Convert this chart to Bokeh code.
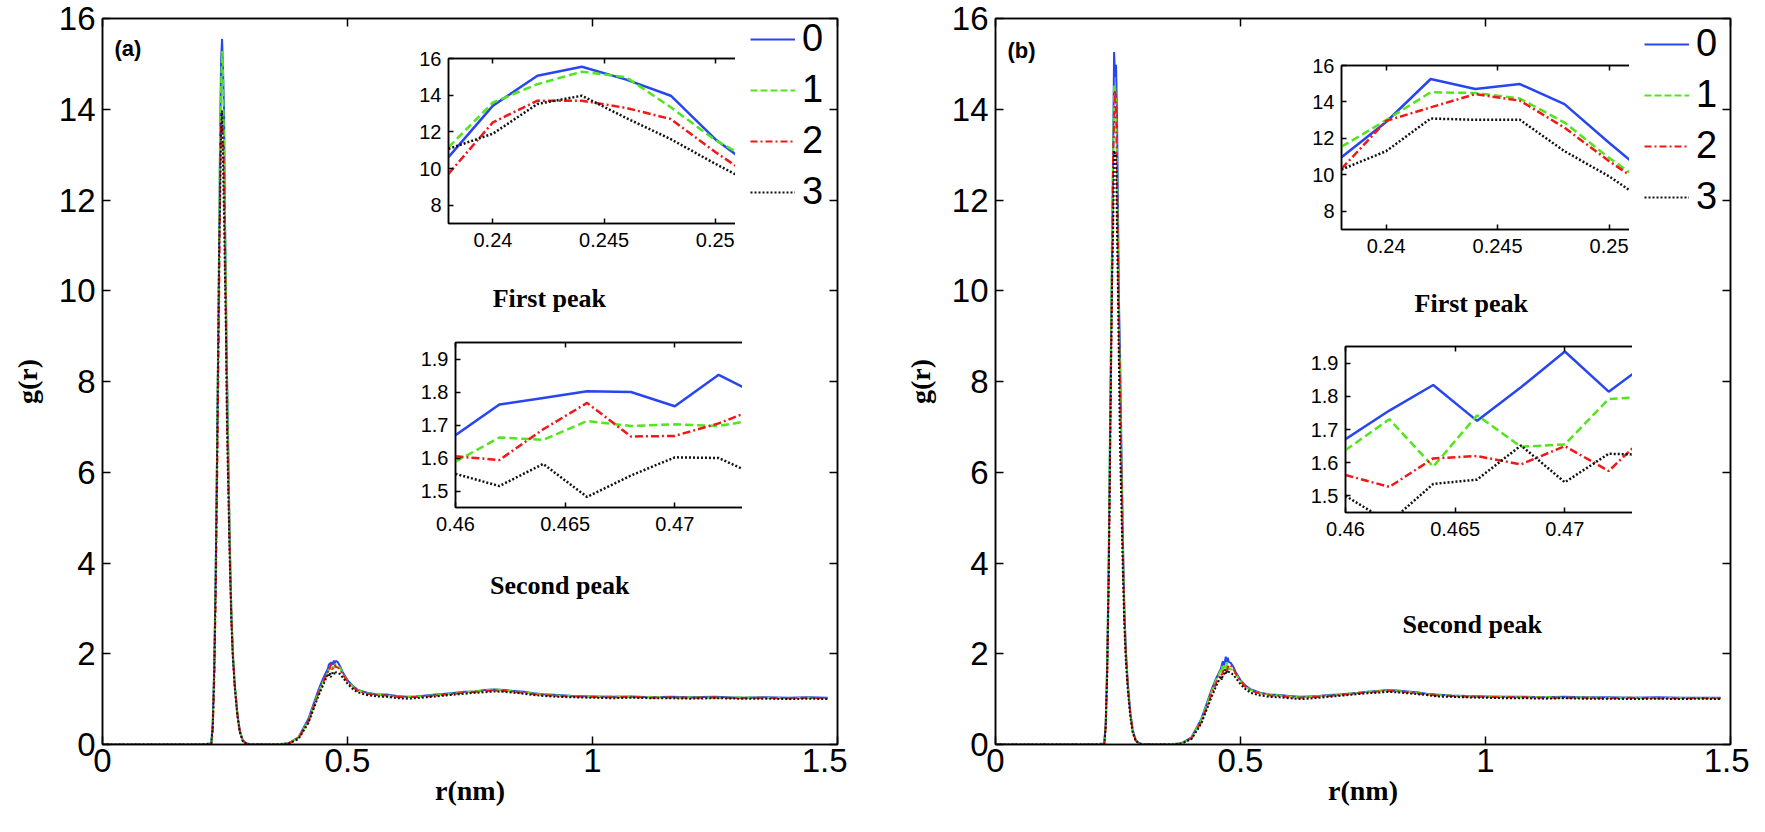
from bokeh.plotting import figure
from bokeh.models import (Range1d, LinearAxis, FixedTicker, Legend, LegendItem,
                          Label, Column)
from bokeh.embed import file_html
from bokeh.resources import INLINE

# ---------------- data ----------------
SERIES = ["0", "1", "2", "3"]
COLORS = ["#2846f0", "#4fe61a", "#f01818", "#111111"]
MAIN_DASH = ["solid", "7 3", "7 3 2 3", "2 2"]
INSET_DASH = ["solid", "8 4", "8 3 2 3", "2 2"]

MAIN_X = [0.0, 1.5]
MAIN_Y = [0.0, 16.0]
MAIN_XTICKS = [0.0, 0.5, 1.0, 1.5]
MAIN_XLABELS = ["0", "0.5", "1", "1.5"]
MAIN_YTICKS = [0, 2, 4, 6, 8, 10, 12, 14, 16]
MAIN_YLABELS = ["0", "2", "4", "6", "8", "10", "12", "14", "16"]

PEAK1_X = [0.238, 0.2528]
PEAK1_Y = [7.0, 16.0]
PEAK1_XTICKS = [0.24, 0.245, 0.25]
PEAK1_XLABELS = ["0.24", "0.245", "0.25"]
PEAK1_YTICKS = [8, 10, 12, 14, 16]
PEAK1_YLABELS = ["8", "10", "12", "14", "16"]

PEAK2_X = [0.46, 0.475]
PEAK2_Y = [1.45, 1.95]
PEAK2_XTICKS = [0.46, 0.465, 0.47]
PEAK2_XLABELS = ["0.46", "0.465", "0.47"]
PEAK2_YTICKS = [1.5, 1.6, 1.7, 1.8, 1.9]
PEAK2_YLABELS = ["1.5", "1.6", "1.7", "1.8", "1.9"]

# r (nm) grid segments
R_PRE = [0.0, 0.1, 0.2, 0.222, 0.225, 0.228, 0.231, 0.234, 0.236]
R_PK1 = [0.238, 0.240, 0.242, 0.244, 0.246, 0.248, 0.250, 0.252, 0.254]
R_MID = [0.257, 0.260, 0.263, 0.266, 0.270, 0.275, 0.280, 0.286, 0.293, 0.30,
         0.33, 0.36, 0.38, 0.40, 0.42, 0.44, 0.45]
R_PK2 = [0.460, 0.462, 0.464, 0.466, 0.468, 0.470, 0.472, 0.474, 0.476]
R_TAIL = [0.48, 0.485, 0.49, 0.50, 0.51, 0.52, 0.54, 0.56, 0.58, 0.60,
          0.62, 0.64, 0.66, 0.68, 0.70, 0.72, 0.74, 0.76, 0.78, 0.80,
          0.82, 0.84, 0.86, 0.88, 0.90, 0.93, 0.96, 1.00, 1.04, 1.08,
          1.12, 1.16, 1.20, 1.25, 1.30, 1.35, 1.40, 1.44, 1.48]

# ----- panel (a) g(r) values, series 0..3 -----
A_PRE = [
    [0, 0, 0, 0.02, 0.5, 1.7, 3.8, 6.6, 8.6],
    [0, 0, 0, 0.01, 0.4, 1.6, 3.7, 6.7, 8.9],
    [0, 0, 0, 0.01, 0.3, 1.4, 3.2, 5.8, 7.8],
    [0, 0, 0, 0.02, 0.4, 1.6, 3.6, 6.5, 8.8],
]
A_PK1 = [
    [10.62, 13.43, 15.06, 15.55, 14.85, 13.97, 11.6, 9.8, 8.2],
    [11.16, 13.6, 14.6, 15.28, 14.97, 13.34, 11.55, 10.2, 8.3],
    [9.71, 12.52, 13.7, 13.7, 13.3, 12.7, 10.9, 9.26, 7.4],
    [11.07, 11.9, 13.52, 13.97, 12.75, 11.6, 10.26, 8.99, 7.0],
]
A_MID = [
    [6.2, 4.3, 2.9, 2.0, 1.3, 0.7, 0.32, 0.1, 0.03, 0.01, 0.0, 0.0, 0.03, 0.16, 0.56, 1.18, 1.45],
    [6.3, 4.4, 3.0, 2.1, 1.35, 0.72, 0.3, 0.1, 0.02, 0.0, 0.0, 0.01, 0.03, 0.15, 0.52, 1.12, 1.38],
    [5.7, 4.1, 2.8, 2.0, 1.3, 0.7, 0.3, 0.09, 0.02, 0.0, 0.0, 0.0, 0.02, 0.14, 0.5, 1.1, 1.36],
    [5.4, 3.9, 2.7, 1.9, 1.25, 0.65, 0.28, 0.08, 0.02, 0.0, 0.0, 0.0, 0.02, 0.12, 0.47, 1.05, 1.3],
]
A_PK2 = [
    [1.669, 1.762, 1.782, 1.802, 1.80, 1.757, 1.852, 1.785, 1.84],
    [1.589, 1.662, 1.655, 1.712, 1.697, 1.702, 1.697, 1.719, 1.76],
    [1.605, 1.594, 1.687, 1.767, 1.665, 1.667, 1.705, 1.757, 1.71],
    [1.552, 1.515, 1.582, 1.482, 1.547, 1.602, 1.60, 1.539, 1.595],
]
A_TAIL = [
    [1.82, 1.72, 1.6, 1.42, 1.3, 1.21, 1.14, 1.1, 1.1, 1.07, 1.05, 1.06, 1.08, 1.1, 1.12, 1.14, 1.16, 1.17, 1.2, 1.21,
     1.2, 1.18, 1.16, 1.13, 1.11, 1.09, 1.07, 1.06, 1.05, 1.06, 1.04, 1.05, 1.04, 1.05, 1.03, 1.04, 1.03, 1.04, 1.03],
    [1.75, 1.68, 1.57, 1.4, 1.28, 1.2, 1.13, 1.11, 1.08, 1.06, 1.05, 1.05, 1.07, 1.09, 1.11, 1.13, 1.15, 1.18, 1.19, 1.22,
     1.19, 1.17, 1.15, 1.12, 1.1, 1.08, 1.07, 1.05, 1.06, 1.04, 1.05, 1.03, 1.04, 1.03, 1.04, 1.03, 1.02, 1.03, 1.02],
    [1.7, 1.64, 1.55, 1.39, 1.27, 1.19, 1.12, 1.09, 1.08, 1.05, 1.04, 1.05, 1.06, 1.08, 1.1, 1.12, 1.14, 1.16, 1.18, 1.19,
     1.18, 1.16, 1.14, 1.11, 1.09, 1.07, 1.06, 1.05, 1.04, 1.05, 1.03, 1.04, 1.03, 1.04, 1.02, 1.03, 1.02, 1.03, 1.02],
    [1.58, 1.55, 1.48, 1.34, 1.23, 1.15, 1.09, 1.06, 1.05, 1.02, 1.01, 1.02, 1.04, 1.06, 1.08, 1.1, 1.12, 1.14, 1.15, 1.17,
     1.16, 1.14, 1.12, 1.09, 1.07, 1.05, 1.04, 1.03, 1.02, 1.03, 1.02, 1.02, 1.01, 1.02, 1.01, 1.01, 1.0, 1.01, 1.0],
]

# ----- panel (b) g(r) values, series 0..3 -----
B_PRE = [
    [0, 0, 0, 0.02, 0.5, 1.8, 4.0, 7.0, 9.0],
    [0, 0, 0, 0.02, 0.5, 1.9, 4.2, 7.4, 9.5],
    [0, 0, 0, 0.01, 0.4, 1.6, 3.6, 6.6, 8.5],
    [0, 0, 0, 0.01, 0.4, 1.6, 3.6, 6.6, 8.5],
]
B_PK1 = [
    [10.97, 12.9, 15.26, 14.71, 14.98, 13.88, 11.76, 9.73, 8.73],
    [11.54, 13.0, 14.53, 14.49, 14.19, 12.87, 10.93, 9.22, 8.3],
    [10.33, 12.96, 13.7, 14.43, 14.07, 12.59, 10.75, 9.1, 8.0],
    [10.29, 11.3, 13.09, 13.02, 13.02, 11.3, 9.92, 8.26, 6.66],
]
B_MID = [
    [6.5, 4.5, 3.0, 2.1, 1.35, 0.72, 0.32, 0.1, 0.03, 0.01, 0.0, 0.0, 0.03, 0.16, 0.56, 1.18, 1.45],
    [6.2, 4.3, 2.9, 2.0, 1.3, 0.7, 0.3, 0.1, 0.02, 0.0, 0.0, 0.01, 0.03, 0.15, 0.54, 1.14, 1.42],
    [6.0, 4.2, 2.8, 2.0, 1.3, 0.7, 0.3, 0.09, 0.02, 0.0, 0.0, 0.0, 0.02, 0.14, 0.5, 1.08, 1.35],
    [5.2, 3.8, 2.6, 1.85, 1.2, 0.62, 0.26, 0.08, 0.02, 0.0, 0.0, 0.0, 0.02, 0.12, 0.46, 1.02, 1.28],
]
B_PK2 = [
    [1.671, 1.757, 1.834, 1.726, 1.827, 1.935, 1.814, 1.911, 1.82],
    [1.638, 1.731, 1.588, 1.743, 1.648, 1.655, 1.792, 1.80, 1.67],
    [1.563, 1.527, 1.613, 1.62, 1.595, 1.65, 1.575, 1.701, 1.76],
    [1.50, 1.42, 1.536, 1.549, 1.652, 1.541, 1.627, 1.623, 1.60],
]
B_TAIL = [
    [1.8, 1.72, 1.6, 1.42, 1.3, 1.22, 1.14, 1.1, 1.09, 1.07, 1.05, 1.06, 1.07, 1.09, 1.1, 1.12, 1.14, 1.16, 1.18, 1.2,
     1.19, 1.17, 1.15, 1.12, 1.1, 1.08, 1.07, 1.06, 1.05, 1.05, 1.04, 1.05, 1.04, 1.04, 1.03, 1.04, 1.03, 1.03, 1.03],
    [1.66, 1.64, 1.56, 1.4, 1.28, 1.2, 1.13, 1.1, 1.08, 1.06, 1.04, 1.05, 1.06, 1.08, 1.1, 1.12, 1.14, 1.16, 1.18, 1.19,
     1.18, 1.16, 1.14, 1.11, 1.09, 1.08, 1.06, 1.05, 1.05, 1.04, 1.05, 1.03, 1.04, 1.03, 1.03, 1.02, 1.03, 1.02, 1.02],
    [1.74, 1.68, 1.57, 1.4, 1.27, 1.19, 1.12, 1.08, 1.07, 1.04, 1.03, 1.04, 1.05, 1.07, 1.09, 1.11, 1.13, 1.15, 1.17, 1.18,
     1.17, 1.15, 1.13, 1.1, 1.08, 1.07, 1.05, 1.05, 1.04, 1.04, 1.03, 1.03, 1.03, 1.02, 1.03, 1.02, 1.02, 1.02, 1.02],
    [1.58, 1.54, 1.47, 1.33, 1.22, 1.14, 1.08, 1.05, 1.04, 1.02, 1.0, 1.01, 1.03, 1.05, 1.07, 1.09, 1.11, 1.13, 1.14, 1.16,
     1.15, 1.13, 1.11, 1.09, 1.06, 1.05, 1.04, 1.03, 1.02, 1.02, 1.01, 1.02, 1.01, 1.01, 1.0, 1.01, 1.0, 1.01, 1.0],
]

TICK_FONT = "Liberation Sans"
TITLE_FONT = "Liberation Serif"


# ---------------- helpers ----------------
def style_axis(ax, tick_len, lw, size, standoff):
    ax.major_tick_in = tick_len
    ax.major_tick_out = 0
    ax.minor_tick_in = 0
    ax.minor_tick_out = 0
    ax.axis_line_color = "black"
    ax.axis_line_width = lw
    ax.major_tick_line_color = "black"
    ax.major_tick_line_width = lw
    ax.major_label_text_font = TICK_FONT
    ax.major_label_text_font_size = size
    ax.major_label_text_color = "black"
    ax.major_label_standoff = standoff


def box_axes(p, xt, xl, yt, yl, size, tick_len, lw, xstand, ystand):
    xa = p.xaxis[0]
    ya = p.yaxis[0]
    xa.ticker = FixedTicker(ticks=xt)
    xa.major_label_overrides = dict(zip(xt, xl))
    ya.ticker = FixedTicker(ticks=yt)
    ya.major_label_overrides = dict(zip(yt, yl))
    style_axis(xa, tick_len, lw, size, xstand)
    style_axis(ya, tick_len, lw, size, ystand)
    top = LinearAxis(ticker=FixedTicker(ticks=xt),
                     major_label_overrides={t: "" for t in xt})
    right = LinearAxis(ticker=FixedTicker(ticks=yt),
                       major_label_overrides={t: "" for t in yt})
    for ax in (top, right):
        style_axis(ax, tick_len, lw, "0px", 0)
    p.add_layout(top, "above")
    p.add_layout(right, "right")
    p.xgrid.grid_line_color = None
    p.ygrid.grid_line_color = None
    p.outline_line_color = "black"
    p.outline_line_width = lw
    return xa, ya


def make_main(pre, pk1, mid, pk2, tail, L, T, fw, fh, R, B, legend_loc, texts):
    p = figure(width=L + fw + R, height=T + fh + B, frame_width=fw, frame_height=fh,
               min_border_left=L, min_border_right=R, min_border_top=T, min_border_bottom=B,
               x_range=Range1d(MAIN_X[0], MAIN_X[1]), y_range=Range1d(MAIN_Y[0], MAIN_Y[1]),
               output_backend="svg", toolbar_location=None,
               background_fill_color="white", border_fill_color=None)
    xa, ya = box_axes(p, MAIN_XTICKS, MAIN_XLABELS, MAIN_YTICKS, MAIN_YLABELS,
                      "33px", 8, 1.5, 4, 7)
    xa.axis_label = "r(nm)"
    ya.axis_label = "g(r)"
    for ax in (xa, ya):
        ax.axis_label_text_font = TITLE_FONT
        ax.axis_label_text_font_style = "bold"
        ax.axis_label_text_font_size = "28px"
        ax.axis_label_text_color = "black"
    xa.axis_label_standoff = 0
    ya.axis_label_standoff = 13

    items = []
    r_all = R_PRE + R_PK1 + R_MID + R_PK2 + R_TAIL
    for i in range(4):
        g_all = pre[i] + pk1[i] + mid[i] + pk2[i] + tail[i]
        rr = p.line(r_all, g_all, line_color=COLORS[i], line_width=2,
                    line_dash=MAIN_DASH[i])
        items.append(LegendItem(label=SERIES[i], renderers=[rr]))
    leg = Legend(items=items, location=legend_loc, border_line_color=None,
                 background_fill_alpha=0, padding=0, margin=0, spacing=8,
                 glyph_width=45, glyph_height=40, label_height=40, label_standoff=7,
                 label_text_font=TICK_FONT, label_text_font_size="38px",
                 label_text_color="black")
    p.add_layout(leg)
    for (x, y, txt, font, style, size, align) in texts:
        p.add_layout(Label(x=x, y=y, text=txt, text_font=font, text_font_style=style,
                           text_font_size=size, text_align=align,
                           text_baseline="middle", text_color="black"))
    return p


def make_inset(rx, series, xr, yr, xt, xl, yt, yl, fw, fh):
    L, T, R, B = 55, 15, 5, 35
    p = figure(width=L + fw + R, height=T + fh + B, frame_width=fw, frame_height=fh,
               min_border_left=L, min_border_right=R, min_border_top=T, min_border_bottom=B,
               x_range=Range1d(xr[0], xr[1]), y_range=Range1d(yr[0], yr[1]),
               output_backend="svg", toolbar_location=None,
               background_fill_color="white", border_fill_color=None)
    box_axes(p, xt, xl, yt, yl, "20px", 5, 1.5, 9, 7)
    for i in range(4):
        p.line(rx, series[i], line_color=COLORS[i], line_width=2.5,
               line_dash=INSET_DASH[i])
    return p


# ---------------- panels ----------------
texts_a = [
    (0.0245, 15.33, "(a)", TICK_FONT, "bold", "22px", "left"),
    (0.912, 9.84, "First peak", TITLE_FONT, "bold", "26px", "center"),
    (0.933, 3.50, "Second peak", TITLE_FONT, "bold", "26px", "center"),
]
texts_b = [
    (0.0245, 15.29, "(b)", TICK_FONT, "bold", "22px", "left"),
    (0.971, 9.73, "First peak", TITLE_FONT, "bold", "26px", "center"),
    (0.973, 2.64, "Second peak", TITLE_FONT, "bold", "26px", "center"),
]

main_a = make_main(A_PRE, A_PK1, A_MID, A_PK2, A_TAIL, 102, 18, 735, 726, 10, 72,
                   (648, 531), texts_a)
main_b = make_main(B_PRE, B_PK1, B_MID, B_PK2, B_TAIL, 100, 18, 735, 726, 21, 72,
                   (649, 526), texts_b)

ins_a1 = make_inset(R_PK1, A_PK1, PEAK1_X, PEAK1_Y, PEAK1_XTICKS, PEAK1_XLABELS,
                    PEAK1_YTICKS, PEAK1_YLABELS, 329, 165)
ins_a2 = make_inset(R_PK2, A_PK2, PEAK2_X, PEAK2_Y, PEAK2_XTICKS, PEAK2_XLABELS,
                    PEAK2_YTICKS, PEAK2_YLABELS, 329, 165)
ins_b1 = make_inset(R_PK1, B_PK1, PEAK1_X, PEAK1_Y, PEAK1_XTICKS, PEAK1_XLABELS,
                    PEAK1_YTICKS, PEAK1_YLABELS, 330, 164)
ins_b2 = make_inset(R_PK2, B_PK2, PEAK2_X, PEAK2_Y, PEAK2_XTICKS, PEAK2_XLABELS,
                    PEAK2_YTICKS, PEAK2_YLABELS, 329, 166)

placement = [
    (main_a, 0, 0),
    (main_b, 893, 0),
    (ins_a1, 346, 43),
    (ins_a2, 353, 327),
    (ins_b1, 1239, 50),
    (ins_b2, 1243, 331),
]
for fig, x, y in placement:
    fig.styles = {"position": "absolute", "left": f"{x}px", "top": f"{y}px"}

root = Column(children=[f for f, _, _ in placement], width=1749, height=816,
              sizing_mode="fixed", styles={"position": "relative"})

open("out.html", "w").write(file_html(root, INLINE))
